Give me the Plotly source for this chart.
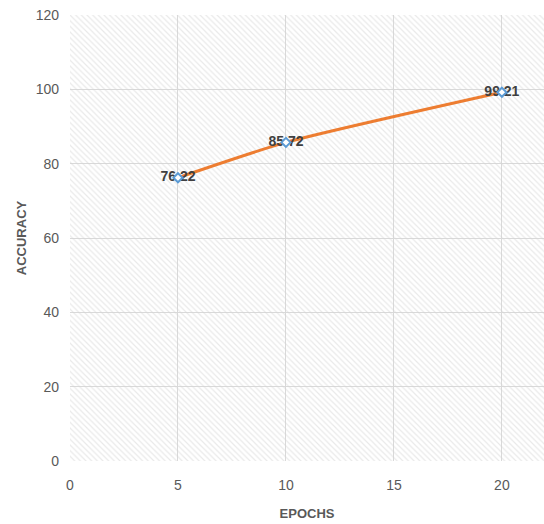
import plotly.graph_objects as go

epochs = [5, 10, 20]
accuracy = [76.22, 85.72, 99.21]
x_ticks = [0, 5, 10, 15, 20]
y_ticks = [0, 20, 40, 60, 80, 100, 120]

X_MAX = 21.95
Y_MAX = 120

FONT = "Liberation Sans Narrow, Liberation Sans, Arial"

fig = go.Figure()

# hatched plot-area background (transparent gaps keep the grid visible)
fig.add_trace(go.Scatter(
    x=[0, X_MAX, X_MAX, 0, 0], y=[0, 0, Y_MAX, Y_MAX, 0],
    mode="lines", line=dict(width=0), fill="toself",
    fillcolor="rgba(0,0,0,0)",
    fillpattern=dict(shape="\\", fgcolor="#d4d4d4", bgcolor="rgba(0,0,0,0)",
                     size=4, solidity=0.3),
    hoverinfo="skip", showlegend=False,
))

# accuracy curve
fig.add_trace(go.Scatter(
    x=epochs, y=accuracy,
    mode="lines",
    line=dict(color="#ED7D31", width=3, shape="spline", smoothing=0.6),
    hoverinfo="skip", showlegend=False,
))

# value labels
fig.add_trace(go.Scatter(
    x=epochs, y=accuracy,
    mode="text",
    text=[f"{v:.2f}" for v in accuracy],
    textposition="middle center",
    textfont=dict(family=FONT, size=14, color="#404040", weight="bold"),
    hoverinfo="skip", showlegend=False,
))

# point markers on top of the labels
fig.add_trace(go.Scatter(
    x=epochs, y=accuracy,
    mode="markers",
    marker=dict(symbol="diamond", size=7, color="white",
                line=dict(color="#5B9BD5", width=2)),
    showlegend=False,
))

fig.update_layout(
    width=544, height=524,
    margin=dict(l=70, r=0, t=15, b=63),
    paper_bgcolor="white", plot_bgcolor="white",
    font=dict(family=FONT, size=14, color="#595959"),
    xaxis=dict(
        range=[0, X_MAX], tickvals=x_ticks, showgrid=True,
        gridcolor="#d9d9d9", gridwidth=1, zeroline=False, showline=False,
        ticks="", ticklabelstandoff=14,
        title=dict(text="<b>EPOCHS</b>", standoff=16,
                   font=dict(size=13, color="#595959")),
    ),
    yaxis=dict(
        range=[0, Y_MAX], tickvals=y_ticks, showgrid=True,
        gridcolor="#d9d9d9", gridwidth=1, zeroline=False, showline=False,
        ticks="", ticklabelstandoff=10,
        title=dict(text="<b>ACCURACY</b>", standoff=6,
                   font=dict(size=13, color="#595959")),
    ),
)

fig.write_html("out.html")
